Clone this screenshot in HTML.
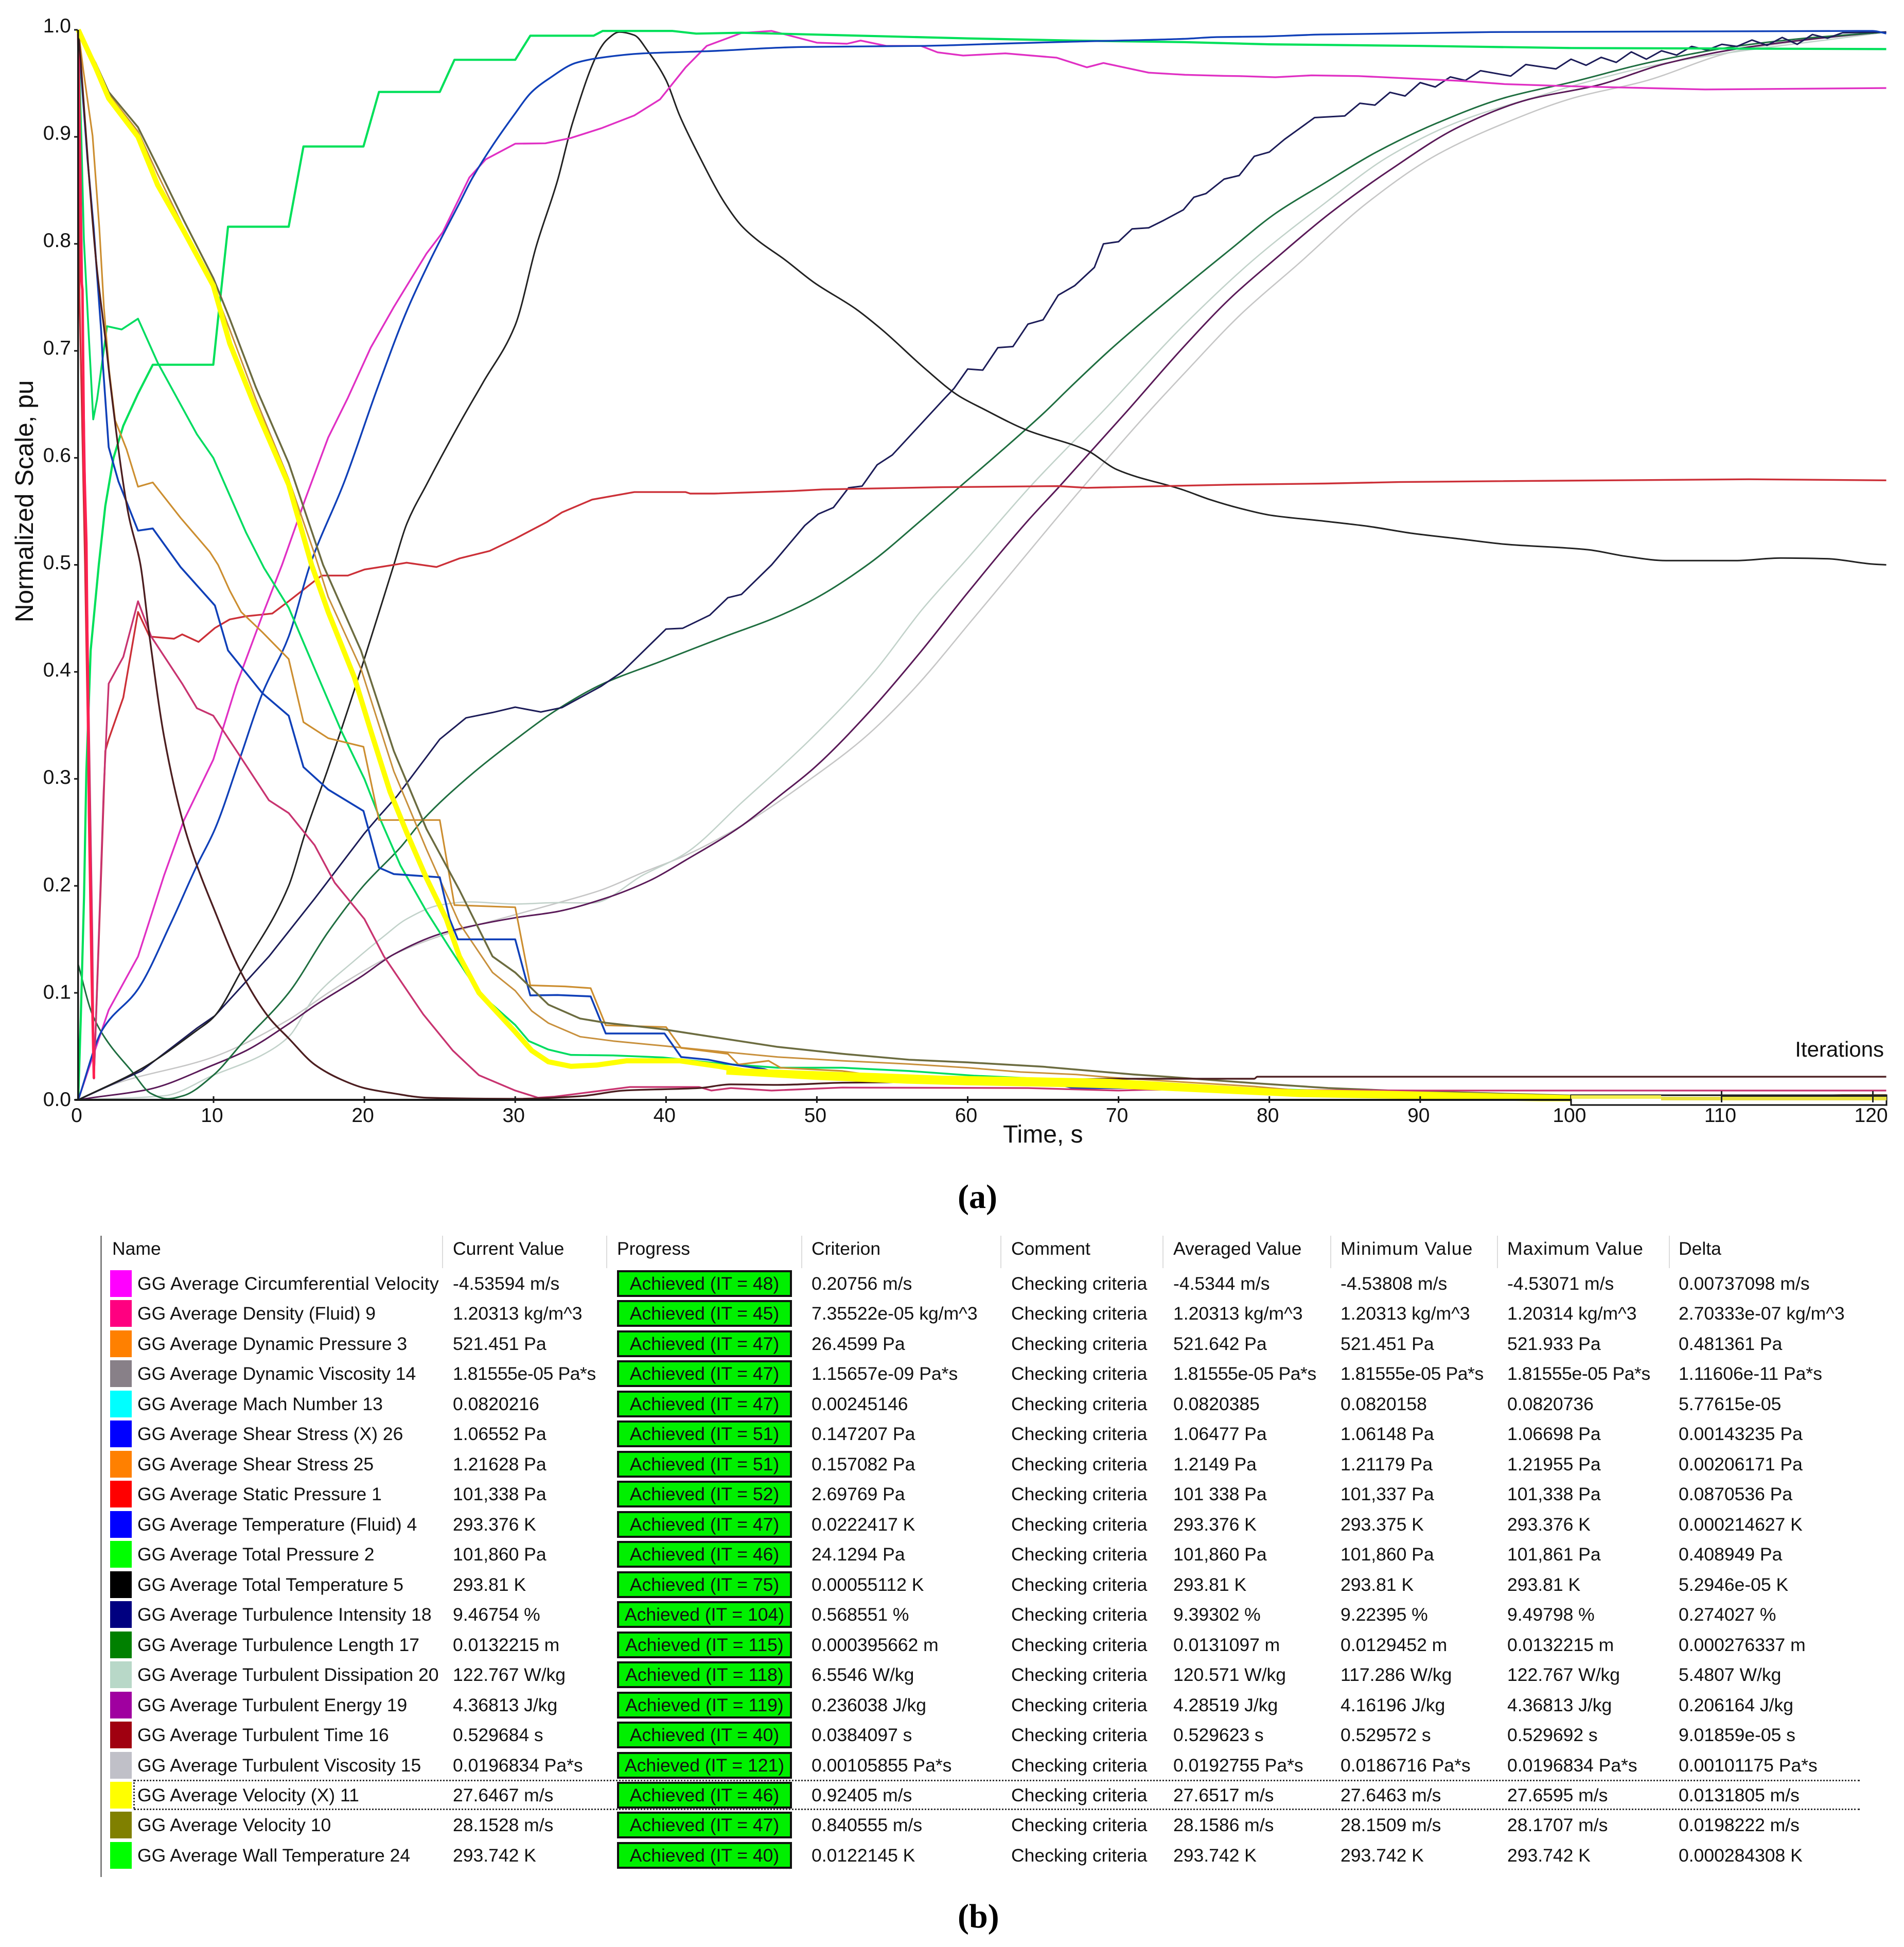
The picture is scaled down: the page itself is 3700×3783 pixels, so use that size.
<!DOCTYPE html>
<html lang="en">
<head>
<meta charset="utf-8">
<title>Normalized scale over time with convergence goals table</title>
<style>
html,body{margin:0;padding:0;background:#fff;}
#page{position:relative;width:3700px;height:3783px;overflow:hidden;background:#fff;font-family:"Liberation Sans",sans-serif;color:#111;}
#chart{position:absolute;left:0;top:0;}
.sep{position:absolute;top:2401px;width:2px;height:63px;background:#dcdcdc;}
.hd{position:absolute;top:2400px;font-size:35.5px;line-height:52px;white-space:nowrap;}
.row{position:absolute;left:0;width:3700px;height:52px;font-size:35.5px;line-height:52px;white-space:nowrap;}
.row span{position:absolute;top:0;}
.row .sw{left:214px;width:42px;height:52px;}
.row .n{left:267px}.row .cv{left:880px}
.row .pg{left:1199px;width:332px;height:44px;line-height:44px;border:4px solid #111;background:#00f000;text-align:center;}
.row .cr{left:1577px}.row .co{left:1965px}.row .av{left:2280px}.row .mi{left:2605px}.row .ma{left:2929px}.row .de{left:3262px}
.dot{position:absolute;left:260px;width:3354px;height:0;border-top:3px dotted #333;}
.cap{position:absolute;left:1861px;font-family:"Liberation Serif",serif;font-weight:bold;font-size:66px;line-height:76px;color:#000;}
</style>
</head>
<body>
<div id="page">
<svg id="chart" width="3700" height="2260" viewBox="0 0 3700 2260" xmlns="http://www.w3.org/2000/svg">
  <g id="series-layer"></g>
  <g id="axis-layer"></g>
  <text x="64" y="974" transform="rotate(-90 64 974)" text-anchor="middle" font-size="49.5" fill="#111" font-family="Liberation Sans, sans-serif">Normalized Scale, pu</text>
  <text x="1949" y="2220" font-size="48" fill="#111" font-family="Liberation Sans, sans-serif">Time, s</text>
  <text x="3661" y="2053" text-anchor="end" font-size="42" fill="#111" font-family="Liberation Sans, sans-serif">Iterations</text>
  <rect x="3053" y="2128" width="613" height="19" fill="#fff" stroke="#111" stroke-width="3"/>
  <rect x="3228" y="2131" width="438" height="7" fill="#e8e040"/>
  <rect x="3053" y="2128" width="175" height="7" fill="#f4ee50"/>
  <rect x="3345" y="2127" width="321" height="4" fill="#222"/>
  <rect x="3344" y="2120" width="3" height="22" fill="#222"/>
  <rect x="3638" y="2120" width="3" height="22" fill="#222"/>
</svg>

<div style="position:absolute;left:195px;top:2401px;width:3px;height:1246px;background:#808080"></div>
<div class="sep" style="left:859px"></div>
<div class="sep" style="left:1178px"></div>
<div class="sep" style="left:1557px"></div>
<div class="sep" style="left:1944px"></div>
<div class="sep" style="left:2259px"></div>
<div class="sep" style="left:2585px"></div>
<div class="sep" style="left:2909px"></div>
<div class="sep" style="left:3243px"></div>

<div class="hd" style="left:218px">Name</div>
<div class="hd" style="left:880px">Current Value</div>
<div class="hd" style="left:1199px">Progress</div>
<div class="hd" style="left:1577px">Criterion</div>
<div class="hd" style="left:1965px">Comment</div>
<div class="hd" style="left:2280px">Averaged Value</div>
<div class="hd" style="left:2605px;letter-spacing:1.2px">Minimum Value</div>
<div class="hd" style="left:2929px;letter-spacing:1px">Maximum Value</div>
<div class="hd" style="left:3262px">Delta</div>

<div class="row" style="top:2468px"><span class="sw" style="background:#ff00ff"></span><span class="n" style="letter-spacing:.3px">GG Average Circumferential Velocity</span><span class="cv">-4.53594 m/s</span><span class="pg">Achieved (IT = 48)</span><span class="cr">0.20756 m/s</span><span class="co">Checking criteria</span><span class="av">-4.5344 m/s</span><span class="mi">-4.53808 m/s</span><span class="ma">-4.53071 m/s</span><span class="de">0.00737098 m/s</span></div>
<div class="row" style="top:2526.47px"><span class="sw" style="background:#ff0080"></span><span class="n">GG Average Density (Fluid) 9</span><span class="cv">1.20313 kg/m^3</span><span class="pg">Achieved (IT = 45)</span><span class="cr">7.35522e-05 kg/m^3</span><span class="co">Checking criteria</span><span class="av">1.20313 kg/m^3</span><span class="mi">1.20313 kg/m^3</span><span class="ma">1.20314 kg/m^3</span><span class="de">2.70333e-07 kg/m^3</span></div>
<div class="row" style="top:2584.94px"><span class="sw" style="background:#ff8000"></span><span class="n">GG Average Dynamic Pressure 3</span><span class="cv">521.451 Pa</span><span class="pg">Achieved (IT = 47)</span><span class="cr">26.4599 Pa</span><span class="co">Checking criteria</span><span class="av">521.642 Pa</span><span class="mi">521.451 Pa</span><span class="ma">521.933 Pa</span><span class="de">0.481361 Pa</span></div>
<div class="row" style="top:2643.41px"><span class="sw" style="background:#888088"></span><span class="n">GG Average Dynamic Viscosity 14</span><span class="cv" style="letter-spacing:-.4px">1.81555e-05 Pa*s</span><span class="pg">Achieved (IT = 47)</span><span class="cr">1.15657e-09 Pa*s</span><span class="co">Checking criteria</span><span class="av" style="letter-spacing:-.4px">1.81555e-05 Pa*s</span><span class="mi" style="letter-spacing:-.4px">1.81555e-05 Pa*s</span><span class="ma" style="letter-spacing:-.4px">1.81555e-05 Pa*s</span><span class="de">1.11606e-11 Pa*s</span></div>
<div class="row" style="top:2701.88px"><span class="sw" style="background:#00ffff"></span><span class="n">GG Average Mach Number 13</span><span class="cv">0.0820216</span><span class="pg">Achieved (IT = 47)</span><span class="cr">0.00245146</span><span class="co">Checking criteria</span><span class="av">0.0820385</span><span class="mi">0.0820158</span><span class="ma">0.0820736</span><span class="de">5.77615e-05</span></div>
<div class="row" style="top:2760.35px"><span class="sw" style="background:#0000ff"></span><span class="n">GG Average Shear Stress (X) 26</span><span class="cv">1.06552 Pa</span><span class="pg">Achieved (IT = 51)</span><span class="cr">0.147207 Pa</span><span class="co">Checking criteria</span><span class="av">1.06477 Pa</span><span class="mi">1.06148 Pa</span><span class="ma">1.06698 Pa</span><span class="de">0.00143235 Pa</span></div>
<div class="row" style="top:2818.82px"><span class="sw" style="background:#ff8000"></span><span class="n">GG Average Shear Stress 25</span><span class="cv">1.21628 Pa</span><span class="pg">Achieved (IT = 51)</span><span class="cr">0.157082 Pa</span><span class="co">Checking criteria</span><span class="av">1.2149 Pa</span><span class="mi">1.21179 Pa</span><span class="ma">1.21955 Pa</span><span class="de">0.00206171 Pa</span></div>
<div class="row" style="top:2877.29px"><span class="sw" style="background:#ff0000"></span><span class="n">GG Average Static Pressure 1</span><span class="cv">101,338 Pa</span><span class="pg">Achieved (IT = 52)</span><span class="cr">2.69769 Pa</span><span class="co">Checking criteria</span><span class="av">101 338 Pa</span><span class="mi">101,337 Pa</span><span class="ma">101,338 Pa</span><span class="de">0.0870536 Pa</span></div>
<div class="row" style="top:2935.76px"><span class="sw" style="background:#0000ff"></span><span class="n">GG Average Temperature (Fluid) 4</span><span class="cv">293.376 K</span><span class="pg">Achieved (IT = 47)</span><span class="cr">0.0222417 K</span><span class="co">Checking criteria</span><span class="av">293.376 K</span><span class="mi">293.375 K</span><span class="ma">293.376 K</span><span class="de">0.000214627 K</span></div>
<div class="row" style="top:2994.23px"><span class="sw" style="background:#00ff00"></span><span class="n">GG Average Total Pressure 2</span><span class="cv">101,860 Pa</span><span class="pg">Achieved (IT = 46)</span><span class="cr">24.1294 Pa</span><span class="co">Checking criteria</span><span class="av">101,860 Pa</span><span class="mi">101,860 Pa</span><span class="ma">101,861 Pa</span><span class="de">0.408949 Pa</span></div>
<div class="row" style="top:3052.7px"><span class="sw" style="background:#000000"></span><span class="n">GG Average Total Temperature 5</span><span class="cv">293.81 K</span><span class="pg">Achieved (IT = 75)</span><span class="cr">0.00055112 K</span><span class="co">Checking criteria</span><span class="av">293.81 K</span><span class="mi">293.81 K</span><span class="ma">293.81 K</span><span class="de">5.2946e-05 K</span></div>
<div class="row" style="top:3111.17px"><span class="sw" style="background:#000080"></span><span class="n">GG Average Turbulence Intensity 18</span><span class="cv">9.46754 %</span><span class="pg">Achieved (IT = 104)</span><span class="cr">0.568551 %</span><span class="co">Checking criteria</span><span class="av">9.39302 %</span><span class="mi">9.22395 %</span><span class="ma">9.49798 %</span><span class="de">0.274027 %</span></div>
<div class="row" style="top:3169.64px"><span class="sw" style="background:#008000"></span><span class="n">GG Average Turbulence Length 17</span><span class="cv">0.0132215 m</span><span class="pg">Achieved (IT = 115)</span><span class="cr">0.000395662 m</span><span class="co">Checking criteria</span><span class="av">0.0131097 m</span><span class="mi">0.0129452 m</span><span class="ma">0.0132215 m</span><span class="de">0.000276337 m</span></div>
<div class="row" style="top:3228.11px"><span class="sw" style="background:#b8d8c8"></span><span class="n">GG Average Turbulent Dissipation 20</span><span class="cv">122.767 W/kg</span><span class="pg">Achieved (IT = 118)</span><span class="cr">6.5546 W/kg</span><span class="co">Checking criteria</span><span class="av">120.571 W/kg</span><span class="mi">117.286 W/kg</span><span class="ma">122.767 W/kg</span><span class="de">5.4807 W/kg</span></div>
<div class="row" style="top:3286.58px"><span class="sw" style="background:#a000a0"></span><span class="n">GG Average Turbulent Energy 19</span><span class="cv">4.36813 J/kg</span><span class="pg">Achieved (IT = 119)</span><span class="cr">0.236038 J/kg</span><span class="co">Checking criteria</span><span class="av">4.28519 J/kg</span><span class="mi">4.16196 J/kg</span><span class="ma">4.36813 J/kg</span><span class="de">0.206164 J/kg</span></div>
<div class="row" style="top:3345.05px"><span class="sw" style="background:#a00010"></span><span class="n">GG Average Turbulent Time 16</span><span class="cv">0.529684 s</span><span class="pg">Achieved (IT = 40)</span><span class="cr">0.0384097 s</span><span class="co">Checking criteria</span><span class="av">0.529623 s</span><span class="mi">0.529572 s</span><span class="ma">0.529692 s</span><span class="de">9.01859e-05 s</span></div>
<div class="row" style="top:3403.52px"><span class="sw" style="background:#c0c0c8"></span><span class="n">GG Average Turbulent Viscosity 15</span><span class="cv">0.0196834 Pa*s</span><span class="pg">Achieved (IT = 121)</span><span class="cr">0.00105855 Pa*s</span><span class="co">Checking criteria</span><span class="av">0.0192755 Pa*s</span><span class="mi">0.0186716 Pa*s</span><span class="ma">0.0196834 Pa*s</span><span class="de">0.00101175 Pa*s</span></div>
<div class="row" style="top:3461.99px"><span class="sw" style="background:#ffff00"></span><span class="n">GG Average Velocity (X) 11</span><span class="cv">27.6467 m/s</span><span class="pg">Achieved (IT = 46)</span><span class="cr">0.92405 m/s</span><span class="co">Checking criteria</span><span class="av">27.6517 m/s</span><span class="mi">27.6463 m/s</span><span class="ma">27.6595 m/s</span><span class="de">0.0131805 m/s</span></div>
<div class="row" style="top:3520.46px"><span class="sw" style="background:#808000"></span><span class="n">GG Average Velocity 10</span><span class="cv">28.1528 m/s</span><span class="pg">Achieved (IT = 47)</span><span class="cr">0.840555 m/s</span><span class="co">Checking criteria</span><span class="av">28.1586 m/s</span><span class="mi">28.1509 m/s</span><span class="ma">28.1707 m/s</span><span class="de">0.0198222 m/s</span></div>
<div class="row" style="top:3578.93px"><span class="sw" style="background:#00ff00"></span><span class="n">GG Average Wall Temperature 24</span><span class="cv">293.742 K</span><span class="pg">Achieved (IT = 40)</span><span class="cr">0.0122145 K</span><span class="co">Checking criteria</span><span class="av">293.742 K</span><span class="mi">293.742 K</span><span class="ma">293.742 K</span><span class="de">0.000284308 K</span></div>

<div class="dot" style="top:3458px"></div>
<div class="dot" style="top:3514px"></div>
<div style="position:absolute;left:259px;top:3458px;height:56px;border-left:3px dotted #333"></div>

<div class="cap" style="top:2288px">(a)</div>
<div class="cap" style="top:3686px">(b)</div>
</div>

<script>
const xTickValues = [0,10,20,30,40,50,60,70,80,90,100,110,120];
const yTickValues = [0,0.1,0.2,0.3,0.4,0.5,0.6,0.7,0.8,0.9,1.0];

const wallTempTimes = [0,0.19,0.43,0.6,0.92,1.52,2,2.61,3.33,4.42,5.51,9.98,10.3,10.96,14.98,15.96,19.94,20.97,25,25.97,30,31,35.2,35.8,40.4,42,45,60,67,74.4,80,90,100,120.9];
const wallTempValues = [0,0.077,0.19,0.307,0.42,0.5,0.555,0.6,0.63,0.66,0.687,0.687,0.73,0.816,0.816,0.891,0.891,0.942,0.942,0.972,0.972,0.9945,0.9945,0.999,0.999,0.9965,0.9973,0.992,0.99,0.9885,0.9865,0.985,0.983,0.982];

const totalPressureTimes = [0,0.23,0.42,0.8,1.11,1.4,2.13,3.21,4.42,5.87,8.77,9.98,11.07,12.16,13.35,14.98,16.7,18.46,20,20.97,22.39,24.12,25.65,27.6,30,30.9,32.2,33.7,36.5,39.8,43.5,47.4,51.7,56.1,60.4,64.1,69,75,80,90,100,106,120.9];
const totalPressureValues = [1,0.901,0.804,0.71,0.636,0.655,0.723,0.72,0.73,0.689,0.622,0.6,0.565,0.53,0.497,0.46,0.403,0.345,0.3,0.265,0.219,0.176,0.142,0.1,0.07,0.055,0.047,0.042,0.0415,0.0396,0.034,0.03,0.03,0.027,0.0226,0.0202,0.018,0.013,0.01,0.006,0.004,0.002,0.002];

const velocityTimes = [0,1.28,2.25,4.42,5.87,7.8,9.98,11.07,12.8,14.98,17.26,19.77,21.95,24.12,26.3,28.5,30,32.2,34.3,36,39.8,43,47.4,51.7,56.1,60,65,71,73.5,78.8,83.9,88,100,106,120.9];
const velocityValues = [1,0.969,0.942,0.909,0.872,0.822,0.768,0.73,0.666,0.595,0.5,0.42,0.326,0.253,0.196,0.134,0.119,0.089,0.076,0.072,0.066,0.059,0.0495,0.043,0.0375,0.035,0.031,0.0237,0.0213,0.0158,0.011,0.0087,0.004,0.003,0.003];

const dynamicPressureTimes = [0,1.28,2.25,4.42,5.87,7.8,9.98,11.07,12.8,14.98,16.7,17.6,19.77,21.95,24.12,26.3,28.5,30,31.1,32.2,34.3,36.5,39.8,43,47.4,51.7,56.1,60,63.5,67.2,69.4,73.5,79,84,88,95,120.9];
const dynamicPressureValues = [1,0.967,0.94,0.905,0.865,0.815,0.76,0.72,0.655,0.58,0.51,0.47,0.403,0.307,0.234,0.165,0.119,0.102,0.083,0.0717,0.059,0.055,0.0505,0.046,0.04,0.0365,0.0335,0.03,0.026,0.0237,0.021,0.0173,0.0125,0.006,0.003,0.002,0.001];

const shearStressTimes = [0,0.37,1.06,1.56,1.9,2.28,2.73,3.57,4.42,5.51,7.56,9.73,10.3,11.07,11.83,13.24,14.98,15.96,17.6,19.94,20.97,25,25.97,30,31,33.3,35,36,40,41,44.1,44.8,46.8,47.6,51.7,56.1,64,72,80,88,100,108,118,120.9];
const shearStressValues = [1,0.963,0.901,0.815,0.74,0.682,0.635,0.608,0.573,0.577,0.544,0.512,0.5,0.476,0.456,0.437,0.412,0.353,0.338,0.33,0.2615,0.2615,0.182,0.18,0.107,0.106,0.1044,0.0697,0.068,0.0485,0.043,0.033,0.0365,0.03,0.027,0.018,0.0145,0.0145,0.008,0.003,0.001,0.001,0.0045,0.0045];

const shearXTimes = [0,0.24,0.68,1.14,1.7,1.83,2.25,2.97,4.42,5.51,7.56,10.09,10.96,13.24,14.98,15.96,17.6,19.94,20.97,21.95,25,25.65,26.2,30,31,32.8,35,36,39.9,41,42.8,44.4,46.5,48,51.7,52.6,55.2,58.3,63.5,66,67,71,76,80,120.9];
const shearXValues = [1,0.955,0.88,0.815,0.718,0.686,0.61,0.578,0.532,0.534,0.498,0.462,0.42,0.38,0.359,0.311,0.29,0.27,0.217,0.211,0.208,0.169,0.15,0.15,0.0976,0.098,0.0967,0.062,0.062,0.04,0.0375,0.033,0.0288,0.0226,0.0215,0.0193,0.018,0.016,0.016,0.0144,0.011,0.011,0.008,0.005,0.002];

const temperatureTimes = [0,1.76,4.42,6.84,8.77,10.09,11.72,13.24,14.98,16.4,18.68,20.86,22.8,24.34,26.3,27.18,30,31.1,32.3,34,35.7,38.5,42.7,49,57,62,67,74.3,76.5,79.6,83.4,95.6,120,120.9];
const temperatureValues = [0,0.065,0.1035,0.165,0.219,0.253,0.318,0.38,0.433,0.5,0.578,0.665,0.737,0.784,0.838,0.862,0.922,0.942,0.955,0.969,0.974,0.978,0.98,0.984,0.985,0.987,0.989,0.9916,0.9932,0.9938,0.9956,0.998,0.999,0.9966];

const circumferentialTimes = [0,0.92,2.25,4.42,6.35,7.8,9.98,11.5,13.24,14.54,16.07,17.6,18.9,20.42,21.95,24.12,25.2,26.96,28.05,30,32,33.7,35.7,37.9,39.6,41.3,42.7,45,47,48.1,50,52,52.9,54.6,56.9,58,59.7,62.5,65.9,67.9,69,72,74.4,77,78,80.4,82.8,85.9,92.6,95.6,100,108.9,120.9];
const circumferentialValues = [0,0.0345,0.084,0.134,0.21,0.261,0.318,0.387,0.453,0.5,0.561,0.619,0.656,0.703,0.741,0.791,0.811,0.862,0.879,0.8936,0.894,0.899,0.908,0.92,0.935,0.965,0.985,0.997,0.999,0.995,0.988,0.987,0.99,0.985,0.985,0.979,0.976,0.978,0.974,0.965,0.969,0.96,0.958,0.957,0.9568,0.9557,0.9575,0.9568,0.9524,0.9493,0.9473,0.9443,0.9456];

const totalTemperatureTimes = [0,4.66,8.77,9.98,11.94,14.98,16.07,17.6,19.77,21.95,22.8,24.12,26.3,27.85,30,31.4,32.8,33.8,35.7,36.1,36.9,37.9,38.8,40,40.9,42.2,43.9,45,46.1,47.8,49.8,52.6,54.3,57.2,59.4,61,63.9,67.9,69.9,74.3,76.1,78,80.1,83.4,86.5,89.5,92.6,95.6,101.1,103.6,106.3,110.9,113.9,117,120,120.9];
const totalTemperatureValues = [0,0.029,0.065,0.077,0.123,0.2,0.249,0.31,0.402,0.5,0.538,0.575,0.632,0.67,0.724,0.798,0.859,0.913,0.984,0.991,0.998,0.995,0.98,0.953,0.92,0.882,0.838,0.817,0.803,0.786,0.764,0.739,0.72,0.683,0.658,0.646,0.626,0.607,0.589,0.57,0.5608,0.553,0.5463,0.5412,0.5361,0.5294,0.5243,0.5193,0.5142,0.5081,0.504,0.504,0.5064,0.5057,0.5007,0.5];

const intensityTimes = [0,4.66,8.77,10.09,13.67,16.7,20,20.97,22.17,25,26.74,28.5,30,31.7,33.1,35.7,37.1,40,41.1,42.9,44.1,45,47,49.2,50.1,51.1,52.1,53,54,55,58.3,59.1,60,61,62,63,64,65,66,67.1,68.4,69,70,70.9,72,73,74.3,75,75.8,77,78,79,80,81,83,85,86,87,88,89,90,91,92,93,94,96,97,99,100,101,102,103,104,105,106,107,108,109,110,111,112,113,114,115,116,117,118,120.9];
const intensityValues = [0,0.027,0.067,0.0786,0.134,0.188,0.249,0.265,0.284,0.337,0.357,0.362,0.367,0.3625,0.3666,0.3866,0.4,0.44,0.4407,0.453,0.4693,0.4724,0.5,0.5368,0.5475,0.5536,0.572,0.5736,0.5935,0.6027,0.653,0.665,0.683,0.682,0.703,0.704,0.725,0.729,0.752,0.761,0.778,0.8,0.802,0.814,0.815,0.822,0.8318,0.8436,0.847,0.8605,0.8639,0.8818,0.8858,0.8976,0.918,0.9196,0.9314,0.9297,0.9416,0.9382,0.9507,0.9466,0.956,0.9527,0.9618,0.9568,0.9676,0.9635,0.9726,0.9669,0.9743,0.9696,0.9794,0.9726,0.9804,0.9764,0.9845,0.9811,0.9865,0.9845,0.9905,0.9855,0.9929,0.9865,0.9956,0.9922,0.9973,0.998];

const lengthTimes = [0,1.04,2,3.94,5.39,6.59,7.8,9.98,11.94,14.98,17.6,19.94,22.39,23.9,27,30,32.8,35.7,39.6,44.1,47,49.8,53.5,56.9,59.4,62.3,65.1,66.8,69.6,74.3,77.4,80.4,83.5,87.1,91.1,95.6,100.2,104.9,107.8,110.9,115.4,120.9];
const lengthValues = [0.1265,0.08,0.0575,0.027,0.0058,0.001,0.004,0.023,0.0537,0.1,0.157,0.2,0.236,0.262,0.303,0.3365,0.3649,0.3881,0.4095,0.4341,0.4493,0.4678,0.5015,0.5414,0.572,0.6073,0.6426,0.666,0.703,0.759,0.7946,0.8284,0.8554,0.8858,0.9128,0.9365,0.9517,0.9686,0.977,0.9845,0.992,0.998];

const dissipationTimes = [0,6.35,9.98,13.24,14.98,16.7,19.33,21.3,22.8,25,26.96,30,32.8,35.1,38.5,41.3,45,49.5,53.8,57,59.9,64.2,68.9,74.3,78.9,83.4,88,92.6,98.7,100.2,106.3,120.9];
const dissipationValues = [0,0.0038,0.023,0.042,0.059,0.096,0.13,0.153,0.169,0.182,0.185,0.183,0.1843,0.184,0.2103,0.2305,0.2776,0.336,0.4,0.4586,0.5046,0.574,0.6426,0.7236,0.7845,0.835,0.8824,0.9145,0.9416,0.948,0.969,0.998];

const energyTimes = [0,1.04,5.14,9.98,12.16,14.98,16.7,19.77,21.95,25,26.96,30,32.8,35.9,39,41.3,45,47.5,49.8,53.5,56.9,60,64,66,70.5,74.3,77.4,80.4,84,88,92.6,97.2,101.7,106.3,110.9,115.4,120,120.9];
const energyValues = [0,0.002,0.0096,0.0326,0.046,0.071,0.088,0.115,0.136,0.155,0.162,0.1702,0.176,0.188,0.2055,0.224,0.256,0.2838,0.31,0.363,0.419,0.474,0.5414,0.572,0.6426,0.7034,0.749,0.786,0.8284,0.869,0.9095,0.935,0.948,0.9686,0.982,0.9905,0.997,0.998];

const viscosityTimes = [0,2.73,9.98,14.98,17.6,19.77,21.95,25,30,32.8,35.7,38.5,41.3,45,49.8,53.2,56.3,60.5,67.6,72,74.3,78.1,81.9,86.5,91,95.6,100.2,104.8,110.9,115.4,120,120.9];
const viscosityValues = [0,0.015,0.04,0.075,0.1,0.119,0.136,0.153,0.173,0.184,0.1961,0.2127,0.2285,0.2562,0.302,0.339,0.382,0.452,0.572,0.643,0.678,0.734,0.781,0.8385,0.8824,0.9128,0.9365,0.9517,0.98,0.99,0.997,0.998];

const turbTimeTimes = [0,0.05,0.1,0.5,0.9,1.16,1.64,2,2.25,3.33,4.42,5.27,7.08,7.68,8.89,10.09,11.07,12.16,13.89,14.98,16.7,17.17,18.9,20,21.95,22.8,24.78,26.3,28.3,30,32.1,33.1,35.1,37.9,41.3,41.6,43.2,48.4,50.4,58.3,66,67.9,74.3,77.7,83.7,88.6,93.5,111.8,120.9];
const turbTimeValues = [1,0.85,0.75,0.5,0.2,0.02,0.19,0.326,0.337,0.376,0.456,0.433,0.431,0.435,0.428,0.441,0.449,0.452,0.4545,0.466,0.485,0.49,0.49,0.4956,0.5,0.502,0.498,0.506,0.513,0.5245,0.54,0.549,0.561,0.568,0.568,0.5666,0.5666,0.569,0.5705,0.5726,0.5736,0.572,0.574,0.575,0.576,0.5774,0.578,0.58,0.579];

const densityTimes = [0,0.2,0.37,0.6,0.68,0.8,1.04,1.16,1.52,1.88,2.25,3.33,4.42,5.39,7.68,8.77,9.98,11.72,13.67,14.98,16.7,18.03,20,21.3,23.9,25.87,27.6,30,31.5,32.6,34.3,37.6,42.2,43,44.3,47,51.7,64,70,72,90,120.9];
const densityValues = [1,0.858,0.686,0.5,0.452,0.345,0.153,0.02,0.153,0.288,0.389,0.414,0.466,0.433,0.389,0.366,0.359,0.322,0.28,0.268,0.238,0.203,0.169,0.134,0.08,0.046,0.023,0.0087,0.002,0.003,0.006,0.012,0.012,0.0087,0.011,0.0087,0.0115,0.011,0.0087,0.0095,0.0087,0.0087];

const staticPressureTimes = [0,0.24,0.31,0.43,0.6,0.68,0.8,1.0,1.16];
const staticPressureValues = [1,0.766,0.757,0.6,0.52,0.42,0.268,0.115,0.02];

const machTimes = [0,0.19,0.76,1.33,2.1,2.32,3.7,4.6,5.27,6.35,7.8,8.77,9.98,11.83,13.67,14.98,16.7,18.46,20,21.95,24.12,30,34.3,37.2,42.2,44.3,47.4,51.7,62.6,70,79,79.2,120.9];
const machValues = [1,0.97,0.869,0.783,0.701,0.675,0.548,0.5,0.433,0.339,0.257,0.219,0.18,0.119,0.077,0.0575,0.033,0.019,0.011,0.006,0.002,0.001,0.0034,0.0087,0.011,0.0145,0.014,0.016,0.0173,0.0197,0.0197,0.0216,0.0216];

const yellowTimes = [0,1.28,2.25,4.42,5.87,7.8,9.98,11.07,12.8,14.98,16.5,17.6,19.33,20.42,21.7,22.8,24.12,25.43,26.3,27.6,30,31.1,32.2,33.7,35.4,37.4,40.9,43.5,45.2,49.6,53.9,58.3,64,69.4,75,80.8,88,100,106];
const yellowValues = [1,0.965,0.936,0.9,0.855,0.812,0.761,0.707,0.646,0.575,0.5,0.456,0.395,0.345,0.288,0.25,0.207,0.169,0.134,0.1,0.0635,0.046,0.0356,0.0313,0.0325,0.0365,0.0365,0.0313,0.027,0.0246,0.0226,0.0202,0.0188,0.0173,0.0125,0.0077,0.006,0.002,0.002];

const yellowTailTimes = [44,50,56,60,66,70,76,82,90,98,105];
const yellowTailValues = [0.026,0.021,0.0175,0.016,0.0145,0.013,0.009,0.005,0.003,0.001,0.001];

const seriesList = [
  {name:'turbulent-viscosity-line', t:viscosityTimes, v:viscosityValues, color:'#c6c6c6', width:2.6, smooth:true},
  {name:'turbulent-dissipation-line', t:dissipationTimes, v:dissipationValues, color:'#c2d2ca', width:2.6, smooth:true},
  {name:'turbulent-energy-line', t:energyTimes, v:energyValues, color:'#5a1a58', width:3, smooth:true},
  {name:'turbulence-length-line', t:lengthTimes, v:lengthValues, color:'#1f6e40', width:3, smooth:true},
  {name:'turbulence-intensity-line', t:intensityTimes, v:intensityValues, color:'#1c1c58', width:3, smooth:false},
  {name:'total-temperature-line', t:totalTemperatureTimes, v:totalTemperatureValues, color:'#222222', width:3, smooth:true},
  {name:'turbulent-time-line', t:turbTimeTimes, v:turbTimeValues, color:'#cc3038', width:3.4, smooth:false},
  {name:'circumferential-velocity-line', t:circumferentialTimes, v:circumferentialValues, color:'#e030c4', width:3.4, smooth:false},
  {name:'wall-temperature-line', t:wallTempTimes, v:wallTempValues, color:'#00e05a', width:4.2, smooth:false},
  {name:'temperature-fluid-line', t:temperatureTimes, v:temperatureValues, color:'#1040b8', width:3.4, smooth:true},
  {name:'total-pressure-line', t:totalPressureTimes, v:totalPressureValues, color:'#00dc60', width:3.6, smooth:false},
  {name:'dynamic-pressure-line', t:dynamicPressureTimes, v:dynamicPressureValues, color:'#c8903c', width:3, smooth:false},
  {name:'shear-stress-line', t:shearStressTimes, v:shearStressValues, color:'#cc8e30', width:3.2, smooth:false},
  {name:'shear-stress-x-line', t:shearXTimes, v:shearXValues, color:'#1040b8', width:3.6, smooth:false},
  {name:'velocity-line', t:velocityTimes, v:velocityValues, color:'#6c6c40', width:3.6, smooth:false},
  {name:'density-line', t:densityTimes, v:densityValues, color:'#c83470', width:3.4, smooth:false},
  {name:'static-pressure-line', t:staticPressureTimes, v:staticPressureValues, color:'#ff2050', width:5, smooth:false},
  {name:'mach-number-line', t:machTimes, v:machValues, color:'#4c1e20', width:3.4, smooth:true},
  {name:'velocity-x-tail-band', t:yellowTailTimes, v:yellowTailValues, color:'#ffff00', width:10, smooth:false},
  {name:'velocity-x-line', t:yellowTimes, v:yellowValues, color:'#ffff00', width:10, smooth:false}
];

function xScale(t){
  return t <= 10 ? 152 + 26.3 * t : 415 + 29.31 * (t - 10);
}
function yScale(v){
  return 2137 - 2079 * v;
}
function yLabelPos(v){
  return 2136 - 2086 * v;
}

function linePath(xs, ys){
  return xs.map(function(x, i){
    return (i ? 'L' : 'M') + x.toFixed(1) + ' ' + ys[i].toFixed(1);
  }).join(' ');
}
function smoothPath(xs, ys){
  const n = xs.length;
  const dx = [], slope = [], m = [];
  for (let i = 0; i < n - 1; i++){
    dx[i] = xs[i + 1] - xs[i];
    slope[i] = (ys[i + 1] - ys[i]) / dx[i];
  }
  m[0] = slope[0];
  m[n - 1] = slope[n - 2];
  for (let i = 1; i < n - 1; i++){
    if (slope[i - 1] * slope[i] <= 0) { m[i] = 0; continue; }
    const w1 = 2 * dx[i] + dx[i - 1];
    const w2 = dx[i] + 2 * dx[i - 1];
    m[i] = (w1 + w2) / (w1 / slope[i - 1] + w2 / slope[i]);
  }
  let d = 'M' + xs[0].toFixed(1) + ' ' + ys[0].toFixed(1);
  for (let i = 0; i < n - 1; i++){
    const h = dx[i] / 3;
    d += ' C' + (xs[i] + h).toFixed(1) + ' ' + (ys[i] + m[i] * h).toFixed(1) + ' ' +
         (xs[i + 1] - h).toFixed(1) + ' ' + (ys[i + 1] - m[i + 1] * h).toFixed(1) + ' ' +
         xs[i + 1].toFixed(1) + ' ' + ys[i + 1].toFixed(1);
  }
  return d;
}

const NS = 'http://www.w3.org/2000/svg';
const axisLayer = document.getElementById('axis-layer');
const seriesLayer = document.getElementById('series-layer');

seriesList.forEach(function(s){
  const path = document.createElementNS(NS, 'path');
  const xs = s.t.map(xScale);
  const ys = s.v.map(yScale);
  path.setAttribute('d', s.smooth ? smoothPath(xs, ys) : linePath(xs, ys));
  path.setAttribute('fill', 'none');
  path.setAttribute('stroke', s.color);
  path.setAttribute('stroke-width', s.width);
  path.setAttribute('stroke-linejoin', 'round');
  
  
  seriesLayer.appendChild(path);
});

function addRect(x, y, w, h, name){
  const r = document.createElementNS(NS, 'rect');
  r.setAttribute('x', x);
  r.setAttribute('y', y);
  r.setAttribute('width', w);
  r.setAttribute('height', h);
  r.setAttribute('fill', '#1a1a1a');
  
  
  axisLayer.appendChild(r);
}
function addText(x, y, str, anchor, name){
  const t = document.createElementNS(NS, 'text');
  t.setAttribute('x', x);
  t.setAttribute('y', y);
  t.setAttribute('text-anchor', anchor);
  t.setAttribute('font-size', '39');
  t.setAttribute('font-family', 'Liberation Sans, sans-serif');
  t.setAttribute('fill', '#111');
  
  
  t.textContent = str;
  axisLayer.appendChild(t);
}

addRect(150, yScale(1), 3.5, yScale(0) - yScale(1), 'y-axis-line');
addRect(146, yScale(0) - 2, xScale(100) - 146, 4, 'x-axis-line');

yTickValues.forEach(function(v){
  addRect(144, yScale(v) - 1.5, 7, 3, 'y-tick');
  addText(138, yLabelPos(v) + 13, v.toFixed(1), 'end', 'y-tick-label');
});
xTickValues.forEach(function(tv){
  if (tv > 0 && tv < 110) addRect(xScale(tv) - 1.5, yScale(0) - 7, 3, 13, 'x-tick');
  addText(xScale(tv) - 3, 2180, String(tv), 'middle', 'x-tick-label');
});
</script>
</body>
</html>
